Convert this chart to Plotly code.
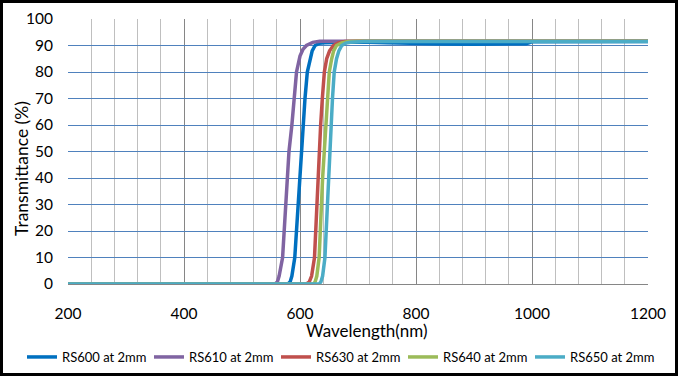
import plotly.graph_objects as go

# Data
wl600 = [200, 579, 583, 586, 591, 594, 596.5, 599, 603, 605.7, 608.6, 612.6, 617, 621, 626, 633, 643, 700, 750, 800, 850, 900, 950, 990, 1000, 1100, 1200]
t600 = [0, 0, 0.8, 3, 10, 20, 30, 40, 50, 60, 70, 80, 85, 88, 90, 90.8, 91, 91.3, 91.0, 90.7, 90.6, 90.5, 90.6, 90.7, 91.4, 91.5, 91.5]

wl610 = [200, 557, 561, 564, 570, 573, 575, 578, 581, 586, 589.7, 594, 600, 605, 611, 622, 634, 700, 1200]
t610 = [0, 0, 0.8, 3, 10, 20, 30, 40, 50, 60, 70, 80, 86, 88.5, 90, 91.2, 91.6, 91.6, 91.6]

wl630 = [200, 611, 616, 620, 625, 627, 629, 630.5, 633, 635.6, 638.5, 642, 646, 651, 657.5, 666, 677, 700, 1200]
t630 = [0, 0, 0.8, 3, 10, 20, 30, 40, 50, 60, 70, 80, 85, 88, 90, 91, 91.5, 91.6, 91.6]

wl640 = [200, 623, 626, 629, 633, 635.6, 637, 639, 642, 644, 647, 650.5, 654.6, 658, 663, 672, 683, 700, 1200]
t640 = [0, 0, 0.8, 3, 10, 20, 30, 40, 50, 60, 70, 80, 85, 88, 90, 91, 91.5, 91.6, 91.6]

wl650 = [200, 633, 636, 639, 643, 645, 647, 649, 652, 654, 656, 659, 663, 667, 672, 679, 687, 710, 1200]
t650 = [0, 0, 0.8, 3, 10, 20, 30, 40, 50, 60, 70, 80, 85, 88, 90, 90.9, 91.2, 91.5, 91.5]

series_names = ["RS600 at 2mm", "RS610 at 2mm", "RS630 at 2mm", "RS640 at 2mm", "RS650 at 2mm"]
series_x = [wl600, wl610, wl630, wl640, wl650]
series_y = [t600, t610, t630, t640, t650]
colors = ["#0070C0", "#8064A2", "#C0504D", "#9BBB59", "#4BACC6"]

x_ticks = [200, 400, 600, 800, 1000, 1200]
y_ticks = [0, 10, 20, 30, 40, 50, 60, 70, 80, 90, 100]
x_title = "Wavelength(nm)"
y_title = "Transmittance (%)"

FONT = "Lato"

fig = go.Figure()
for name, xs, ys, c in zip(series_names, series_x, series_y, colors):
    fig.add_trace(go.Scatter(x=xs, y=ys, name=name, mode="lines",
                             line=dict(color=c, width=3.5)))

W, H = 678, 376
L, R, T, B = 68, 30, 19, 92
pw, ph = W - L - R, H - T - B


def px_x(p):
    return (p - L) / pw


def px_y(p):
    return (T + ph - p) / ph


fig.update_layout(
    width=W, height=H,
    margin=dict(l=L, r=R, t=T, b=B, autoexpand=False),
    paper_bgcolor="white", plot_bgcolor="white",
    font=dict(family=FONT, size=15.5, color="black"),
    showlegend=True,
    legend=dict(orientation="h", x=px_x(22), xanchor="left",
                y=px_y(357), yanchor="middle",
                font=dict(family=FONT, size=13), itemwidth=30, entrywidth=82,
                traceorder="normal", bgcolor="rgba(0,0,0,0)"),
    xaxis=dict(range=[200, 1200], tickvals=x_ticks, showgrid=True, gridcolor="#868686", gridwidth=1,
               minor=dict(dtick=40, tick0=200, showgrid=True, gridcolor="#BFBFBF", gridwidth=1),
               showline=True, linecolor="#868686", linewidth=1, mirror=False,
               ticks="outside", ticklen=15, tickcolor="rgba(0,0,0,0)",
               zeroline=False, automargin=False),
    yaxis=dict(range=[0, 100], tickvals=y_ticks, showgrid=True, gridcolor="#4F81BD", gridwidth=1,
               showline=False, zeroline=False, automargin=False,
               ticks="outside", ticklen=11, tickcolor="rgba(0,0,0,0)"),
)

fig.add_annotation(text=x_title, xref="paper", yref="paper", x=px_x(366), y=px_y(330),
                   xanchor="center", yanchor="middle", showarrow=False,
                   font=dict(family=FONT, size=17))
fig.add_annotation(text=y_title, xref="paper", yref="paper", x=px_x(21), y=px_y(169),
                   xanchor="center", yanchor="middle", showarrow=False, textangle=-90,
                   font=dict(family=FONT, size=17.5))

# black frame around the whole picture
fig.add_shape(type="rect", xref="paper", yref="paper",
              x0=px_x(1.5), x1=px_x(W - 1.5),
              y0=px_y(H - 1.5), y1=px_y(1.5),
              line=dict(color="black", width=3), fillcolor="rgba(0,0,0,0)", layer="above")

fig.write_html("out.html", config={"displayModeBar": False},
               post_script="document.body.style.margin='0px';")
